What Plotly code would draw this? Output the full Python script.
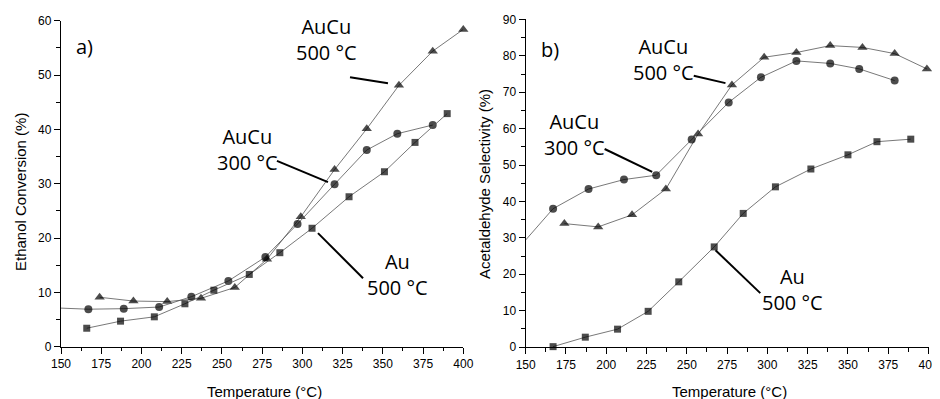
import plotly.graph_objects as go

# ---------------- data ----------------
# Panel a) Ethanol conversion (%)
a_aucu500_T = [174, 195, 216, 237, 258, 278, 299, 320, 340, 360, 381, 400]
a_aucu500_v = [9.1, 8.4, 8.3, 8.9, 10.9, 16.1, 23.9, 32.6, 40.1, 48.1, 54.4, 58.4]
a_aucu300_T = [150, 167, 189, 211, 231, 254, 277, 297, 320, 340, 359, 381]
a_aucu300_v = [7.1, 6.9, 7.0, 7.3, 9.2, 12.1, 16.5, 22.6, 29.9, 36.2, 39.2, 40.8]
a_au500_T = [166, 187, 208, 227, 245, 267, 286, 306, 329, 351, 370, 390]
a_au500_v = [3.4, 4.7, 5.5, 7.9, 10.4, 13.3, 17.3, 21.8, 27.6, 32.2, 37.6, 42.9]

# Panel b) Acetaldehyde selectivity (%)
b_aucu500_T = [174, 195, 216, 237, 257, 278, 298, 318, 339, 359, 379, 399]
b_aucu500_v = [33.9, 33.0, 36.3, 43.4, 58.5, 72.0, 79.6, 80.9, 82.8, 82.3, 80.6, 76.4]
b_aucu300_T = [150, 167, 189, 211, 231, 253, 276, 296, 318, 339, 357, 379]
b_aucu300_v = [29.4, 38.0, 43.4, 46.0, 47.2, 57.0, 67.2, 74.1, 78.6, 77.9, 76.4, 73.2]
b_au500_T = [167, 187, 207, 226, 245, 267, 285, 305, 327, 350, 368, 389]
b_au500_v = [0.1, 2.7, 4.9, 9.8, 17.9, 27.5, 36.7, 44.0, 48.9, 52.8, 56.4, 57.1]

x_title = "Temperature (°C)"
ya_title = "Ethanol Conversion (%)"
yb_title = "Acetaldehyde Selectivity (%)"

# ---------------- layout helpers ----------------
# The page body has a default 8 px margin, so the figure is drawn 8 px in from
# the window's top-left corner; size the figure to fill the rest of the window.
OFF = 8
W, H = 940 - OFF, 399 - OFF


def px(x):
    return (x - OFF) / W


def py(y):
    return (H - (y - OFF)) / H


fig = go.Figure()
LINE = dict(color="#555555", width=0.8)


def add(T, v, symbol, size, xa, ya, lead_in=False):
    sizes = [size] * len(T)
    if lead_in:
        sizes[0] = 0
    fig.add_trace(go.Scatter(
        x=T, y=v, mode="lines+markers", xaxis=xa, yaxis=ya,
        line=LINE, cliponaxis=False, showlegend=False,
        marker=dict(symbol=symbol, size=sizes, color="black", line=dict(width=0)),
    ))


add(a_aucu500_T, a_aucu500_v, "triangle-up", 9, "x", "y")
add(a_aucu300_T, a_aucu300_v, "circle", 8, "x", "y", lead_in=True)
add(a_au500_T, a_au500_v, "square", 7, "x", "y")
add(b_aucu500_T, b_aucu500_v, "triangle-up", 9, "x2", "y2")
add(b_aucu300_T, b_aucu300_v, "circle", 8, "x2", "y2", lead_in=True)
add(b_au500_T, b_au500_v, "square", 7, "x2", "y2")

TICKFONT = dict(family="Liberation Sans, Arial, sans-serif", size=12, color="black")
common_x = dict(range=[150, 400], dtick=25, tick0=150, showgrid=False, zeroline=False,
                automargin=False, ticklabeloverflow="allow",
                showline=True, linecolor="black", linewidth=1.3,
                ticks="outside", ticklen=6, tickwidth=1.2, tickcolor="black",
                tickfont=TICKFONT,
                minor=dict(dtick=12.5, tick0=150, ticks="outside", ticklen=3.5,
                           tickwidth=1.1, tickcolor="black"))
common_y = dict(showgrid=False, zeroline=False, showline=True, linecolor="black",
                automargin=False, ticklabeloverflow="allow",
                linewidth=1.3, ticks="outside", ticklen=6, tickwidth=1.2,
                tickcolor="black", tickfont=TICKFONT, dtick=10, tick0=0,
                minor=dict(dtick=5, ticks="outside", ticklen=3.5, tickwidth=1.1,
                           tickcolor="black"))

fig.update_layout(
    template="none",
    width=W, height=H, margin=dict(l=0, r=0, t=0, b=0, autoexpand=False),
    paper_bgcolor="white", plot_bgcolor="white",
    xaxis=dict(domain=[px(61), px(463.3)], anchor="y", **common_x),
    yaxis=dict(domain=[py(346.7), py(20.7)], range=[0, 60], anchor="x", **common_y),
    xaxis2=dict(domain=[px(525.7), px(928.5)], anchor="y2", **common_x),
    yaxis2=dict(domain=[py(347), py(19.4)], range=[0, 90], anchor="x2", **common_y),
)

LBL = dict(family="Open Sans, sans-serif", size=20, color="black")
TTL = dict(family="Liberation Sans, Arial, sans-serif", size=15, color="black")

notes = [
    ("a)", "x", "y", 164.6, 55.2),
    ("b)", "x2", "y2", 165, 81.8),
    ("AuCu<br>500 °C", "x", "y", 315.0, 56.6),
    ("AuCu<br>300 °C", "x", "y", 266.2, 36.3),
    ("Au<br>500 °C", "x", "y", 358.8, 13.3),
    ("AuCu<br>500 °C", "x2", "y2", 235.8, 79.1),
    ("AuCu<br>300 °C", "x2", "y2", 180.4, 58.4),
    ("Au<br>500 °C", "x2", "y2", 315.8, 15.7),
]
for text, xr, yr, xx, yy in notes:
    fig.add_annotation(text=text, xref=xr, yref=yr, x=xx, y=yy, showarrow=False,
                       xanchor="center", yanchor="middle", font=LBL, align="center")

# leader lines (data coordinates)
leaders = [
    ("x", "y", 329.6, 49.6, 353.2, 48.5),
    ("x", "y", 284.2, 34.2, 315.9, 30.3),
    ("x", "y", 309.7, 20.9, 337.7, 12.6),
    ("x2", "y2", 254.3, 74.5, 274.0, 72.5),
    ("x2", "y2", 199.0, 54.4, 228.5, 48.1),
    ("x2", "y2", 267.8, 26.6, 295.6, 14.8),
]
for xr, yr, x0, y0, x1, y1 in leaders:
    fig.add_shape(type="line", xref=xr, yref=yr, x0=x0, y0=y0, x1=x1, y1=y1,
                  line=dict(color="black", width=2))

# axis titles
fig.add_annotation(text=x_title, xref="paper", yref="paper", x=px(264), y=py(391.5),
                   showarrow=False, xanchor="center", yanchor="middle", font=TTL)
fig.add_annotation(text=x_title, xref="paper", yref="paper", x=px(729), y=py(391.5),
                   showarrow=False, xanchor="center", yanchor="middle", font=TTL)
fig.add_annotation(text=ya_title, xref="paper", yref="paper", x=px(20), y=py(192),
                   showarrow=False, xanchor="center", yanchor="middle", font=TTL, textangle=-90)
fig.add_annotation(text=yb_title, xref="paper", yref="paper", x=px(484), y=py(184),
                   showarrow=False, xanchor="center", yanchor="middle", font=TTL, textangle=-90)

fig.write_html("out.html")
